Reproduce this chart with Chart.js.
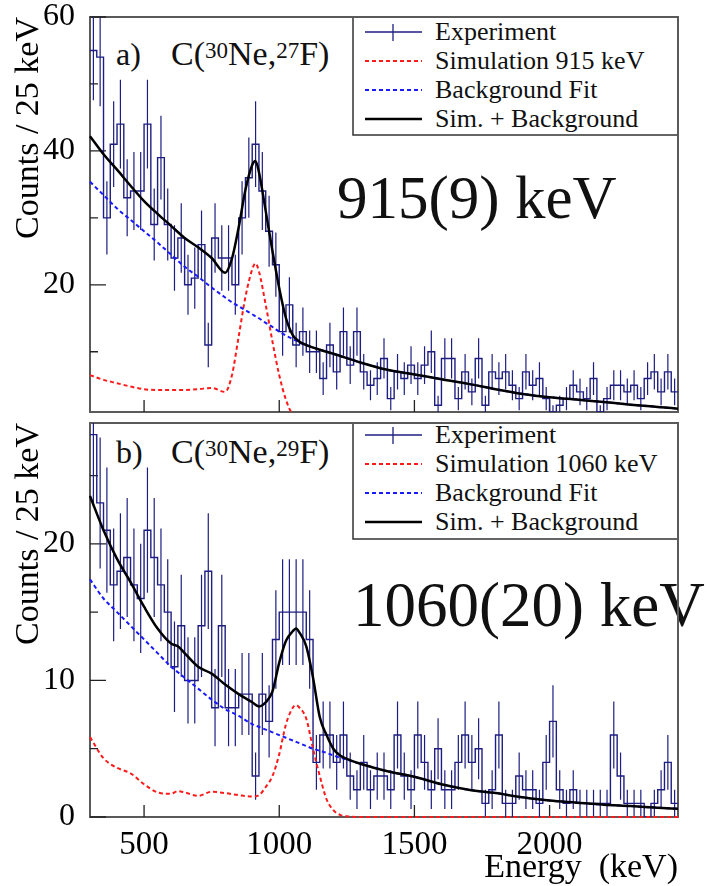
<!DOCTYPE html>
<html>
<head>
<meta charset="utf-8">
<script src="https://cdn.jsdelivr.net/npm/chart.js@4.4.1/dist/chart.umd.min.js"></script>
<style>
  html, body { margin: 0; padding: 0; background: #fff; }
  body { width: 710px; height: 886px; position: relative; overflow: hidden; }
  #ov { position: absolute; left: 0; top: 0; z-index: 0; }
  #ov text { font-family: "Liberation Serif", "Times New Roman", Times, "DejaVu Serif", serif; }
  canvas { position: absolute; left: 0; z-index: 1; }
  #cTop { top: 0; }
  #cBot { top: 418px; }
</style>
</head>
<body>
<svg id="ov" width="710" height="886" xmlns="http://www.w3.org/2000/svg">
  <g fill="#111">
    <!-- panel a -->
    <text x="116" y="65" font-size="32">a)</text>
    <text x="171" y="65" font-size="34">C(<tspan font-size="23" dy="-7">30</tspan><tspan dy="7">Ne,</tspan><tspan font-size="23" dy="-7">27</tspan><tspan dy="7">F)</tspan></text>
    <text x="337" y="218" font-size="61">915(9) keV</text>
    <!-- legend a -->
    <rect x="353" y="17" width="325" height="118" fill="#fff" stroke="#333" stroke-width="1.5"/>
    <line x1="365" y1="32" x2="422" y2="32" stroke="#1e1e82" stroke-width="1.3"/>
    <line x1="393" y1="24" x2="393" y2="41" stroke="#1e1e82" stroke-width="1.3"/>
    <line x1="365" y1="61" x2="422" y2="61" stroke="#ff1a1a" stroke-width="2" stroke-dasharray="4 3"/>
    <line x1="365" y1="90" x2="422" y2="90" stroke="#1a1aff" stroke-width="2" stroke-dasharray="4 3"/>
    <line x1="365" y1="119" x2="422" y2="119" stroke="#000" stroke-width="2.5"/>
    <text x="435" y="40" font-size="26">Experiment</text>
    <text x="435" y="69" font-size="26">Simulation 915 keV</text>
    <text x="435" y="98" font-size="26">Background Fit</text>
    <text x="435" y="127" font-size="26">Sim. + Background</text>
    <!-- panel b -->
    <text x="116" y="463" font-size="32">b)</text>
    <text x="171" y="463" font-size="34">C(<tspan font-size="23" dy="-7">30</tspan><tspan dy="7">Ne,</tspan><tspan font-size="23" dy="-7">29</tspan><tspan dy="7">F)</tspan></text>
    <text x="353" y="626" font-size="63">1060(20) keV</text>
    <!-- legend b -->
    <rect x="353" y="423" width="325" height="116" fill="#fff" stroke="#333" stroke-width="1.5"/>
    <line x1="365" y1="435" x2="422" y2="435" stroke="#1e1e82" stroke-width="1.3"/>
    <line x1="393" y1="427" x2="393" y2="444" stroke="#1e1e82" stroke-width="1.3"/>
    <line x1="365" y1="464" x2="422" y2="464" stroke="#ff1a1a" stroke-width="2" stroke-dasharray="4 3"/>
    <line x1="365" y1="493" x2="422" y2="493" stroke="#1a1aff" stroke-width="2" stroke-dasharray="4 3"/>
    <line x1="365" y1="522" x2="422" y2="522" stroke="#000" stroke-width="2.5"/>
    <text x="435" y="443" font-size="26">Experiment</text>
    <text x="435" y="472" font-size="26">Simulation 1060 keV</text>
    <text x="435" y="501" font-size="26">Background Fit</text>
    <text x="435" y="530" font-size="26">Sim. + Background</text>
  </g>
</svg>
<canvas id="cTop" width="710" height="418"></canvas>
<canvas id="cBot" width="710" height="468"></canvas>
<script>
// ---------- data ----------
const binStart = 300;      // keV, lower edge of first bin
const binWidth = 25;       // keV per bin
const energyMin = 300;
const energyMax = 2475;

// panel a) C(30Ne,27F) : counts per 25 keV bin
const topCounts = [55,54,30,41,44,33,34,34,44,29,
                   39,29,24,27,20,21,26,11,27,24,
                   24,20,30,36,41,34,28,23,13,17,
                   11,13,10,10,6,11,7,13,8,13,
                   7,5,6,9,3,7,6,8,6,8,
                   10,2,9,9,3,7,4,9,2,7,
                   6,7,5,3,7,5,6,3,1,2,
                   3,5,4,3,6,1,3,5,5,4,
                   5,3,6,7,4,7,4];
// panel a) fit curves
const topFitE = [300,350,400,450,500,550,600,650,700,750,800,825,850,875,900,912,925,950,975,1000,1025,1050,1075,1100,1150,1200,1300,1400,1500,1600,1700,1800,1900,2000,2100,2200,2300,2400,2475];
const topBg   = [35.4,33.4,31.4,29.7,28.0,26.3,24.5,22.7,21.2,19.6,18.1,17.4,16.8,16.2,15.6,15.3,15.0,14.3,13.7,13.0,12.4,11.9,11.4,11.0,10.3,9.7,8.4,7.3,6.6,5.9,5.2,4.4,3.7,3.2,2.85,2.5,2.1,1.75,1.5];
const topSim  = [6.5,5.8,5.3,4.8,4.4,4.3,4.3,4.3,4.4,4.6,4.0,6.5,12.3,18.2,22.3,23.2,22.0,17.0,11.5,6.5,2.8,0.6,0.1,0,0,0,0,0,0,0,0,0,0,0,0,0,0,0,0];
const topSum  = [42.2,39.5,37.2,34.8,32.5,30.6,28.8,27.0,25.6,24.0,21.8,23.9,28.6,34.2,37.9,38.5,36.8,31.0,25.0,19.5,15.0,12.5,11.5,11.0,10.3,9.7,8.4,7.3,6.6,5.9,5.2,4.4,3.7,3.2,2.85,2.5,2.1,1.75,1.5];

// panel b) C(30Ne,29F)
const botCounts = [28,23,21,17,18,19,17,16,21,19,
                   17,15,11,14,10,10,14,18,8,14,
                   8,8,9,9,3,9,7,13,15,15,
                   15,15,13,4,6,6,4,6,3,2,
                   4,2,3,3,2,6,3,2,6,4,
                   2,5,2,2,4,6,4,5,1,2,
                   6,1,1,3,2,2,1,4,7,2,
                   1,2,1,1,1,1,1,6,3,1,
                   1,1,0,1,2,4,1];
const botFitE = [300,350,400,450,500,550,600,625,650,700,750,800,850,900,925,950,975,1000,1025,1050,1062,1075,1100,1125,1150,1175,1200,1225,1250,1300,1400,1500,1600,1700,1800,1900,2000,2100,2200,2300,2400,2475];
const botBg   = [17.4,16.0,15.0,14.0,13.0,12.0,11.0,10.6,10.2,9.4,8.6,7.9,7.4,6.8,6.6,6.4,6.2,6.0,5.8,5.6,5.5,5.4,5.2,5.0,4.85,4.7,4.5,4.35,4.2,3.9,3.35,2.95,2.4,2.0,1.75,1.45,1.2,1.05,0.9,0.8,0.68,0.6];
const botSim  = [5.85,4.3,3.6,3.2,2.4,1.8,1.7,1.9,1.8,1.55,1.85,1.75,1.6,1.5,1.6,2.2,3.0,4.6,6.8,8.0,8.2,8.0,7.2,5.0,3.0,1.3,0.5,0.15,0.05,0,0,0,0,0,0,0,0,0,0,0,0,0];
const botSum  = [23.5,21.0,18.9,17.2,15.4,13.8,12.7,12.5,12.0,11.0,10.5,9.7,9.0,8.4,8.1,8.4,9.2,11.3,12.9,13.6,13.8,13.5,12.5,10.2,7.3,6.0,5.0,4.5,4.25,3.9,3.35,2.95,2.4,2.0,1.75,1.45,1.2,1.05,0.9,0.8,0.68,0.6];

// tick labels
const xTicks = [500, 1000, 1500, 2000];
const topYTicks = [20, 40, 60];
const topYMinor = [10, 30, 50];
const topYRange = [1, 60];
const botYTicks = [0, 10, 20];
const botYMinor = [5, 15, 25];
const botYRange = [0, 28.85];

// ---------- helpers ----------
const SERIF = '"Liberation Serif", "Times New Roman", Times, "DejaVu Serif", serif';
const NAVY = '#1e1e82', RED = '#ff1a1a', BLUE = '#1a1aff';

function stepPoints(counts) {
  const pts = counts.map((c, i) => ({x: binStart + i * binWidth, y: c}));
  pts.push({x: binStart + counts.length * binWidth, y: counts[counts.length - 1]});
  return pts;
}
function errorPoints(counts) {
  const pts = [];
  counts.forEach((c, i) => {
    if (c <= 0) return;
    const cx = binStart + (i + 0.5) * binWidth;
    const e = Math.sqrt(c);
    pts.push({x: cx, y: c - e}, {x: cx, y: c + e}, {x: cx, y: null});
  });
  return pts;
}
function curve(xs, ys) { return xs.map((x, i) => ({x: x, y: ys[i]})); }

const frameTicks = {
  id: 'frameTicks',
  beforeDatasetsDraw(chart, args, opts) {
    const {ctx, chartArea: a, scales: {x, y}} = chart;
    ctx.save();
    ctx.strokeStyle = '#5a5a5a';
    ctx.lineWidth = 2;
    ctx.strokeRect(a.left, a.top, a.right - a.left, a.bottom - a.top);
    ctx.strokeStyle = '#222';
    ctx.lineWidth = 1.3;
    ctx.beginPath();
    opts.yMajor.forEach(v => { const p = y.getPixelForValue(v); ctx.moveTo(a.left, p); ctx.lineTo(a.left + 16, p); });
    opts.yMinor.forEach(v => { const p = y.getPixelForValue(v); ctx.moveTo(a.left, p); ctx.lineTo(a.left + 8, p); });
    opts.xMajor.forEach(v => { const p = x.getPixelForValue(v); ctx.moveTo(p, a.bottom); ctx.lineTo(p, a.bottom - 12); });
    ctx.stroke();
    ctx.restore();
  }
};

function makeChart(canvasId, cfg) {
  const datasets = [
    {label: 'Sim. + Background', data: curve(cfg.fitE, cfg.sum), borderColor: '#000', borderWidth: 2.5,
     pointRadius: 0, cubicInterpolationMode: 'monotone', order: 0, clip: 2},
    {label: 'Background Fit', data: curve(cfg.fitE, cfg.bg), borderColor: BLUE, borderWidth: 2, borderDash: [4, 3],
     pointRadius: 0, cubicInterpolationMode: 'monotone', order: 1, clip: 2},
    {label: cfg.simLabel, data: curve(cfg.fitE, cfg.sim), borderColor: RED, borderWidth: 2, borderDash: [4, 3],
     pointRadius: 0, cubicInterpolationMode: 'monotone', order: 2, clip: 2},
    {label: 'Experiment errors', data: errorPoints(cfg.counts), borderColor: NAVY, borderWidth: 1.2,
     pointRadius: 0, spanGaps: false, tension: 0, order: 3},
    {label: 'Experiment', data: stepPoints(cfg.counts), borderColor: NAVY, borderWidth: 1.4,
     pointRadius: 0, stepped: 'before', order: 4}
  ];
  return new Chart(document.getElementById(canvasId), {
    type: 'line',
    data: {datasets: datasets},
    options: {
      responsive: false,
      animation: false,
      devicePixelRatio: 1,
      layout: {padding: {top: cfg.padTop, right: 32, left: 0, bottom: 0}},
      plugins: {
        legend: {display: false},
        tooltip: {enabled: false},
        frameTicks: {yMajor: cfg.yTicks, yMinor: cfg.yMinor, xMajor: xTicks}
      },
      scales: {
        x: {
          type: 'linear', min: energyMin, max: energyMax,
          grid: {display: false}, border: {display: false},
          ticks: {display: cfg.showX, maxRotation: 0, autoSkip: false, color: '#000', padding: 1,
                  font: {family: SERIF, size: 33}, callback: v => String(v)},
          afterBuildTicks: s => { s.ticks = xTicks.map(v => ({value: v})); },
          title: {display: cfg.showX, text: 'Energy  (keV)', align: 'end', color: '#000',
                  font: {family: SERIF, size: 34, lineHeight: 1}, padding: {top: 0, bottom: 1}},
          afterFit: s => { s.height = cfg.xHeight; s.paddingLeft = 0; s.paddingRight = 0; }
        },
        y: {
          type: 'linear', min: cfg.yRange[0], max: cfg.yRange[1],
          grid: {display: false}, border: {display: false},
          ticks: {color: '#000', padding: 7, font: {family: SERIF, size: 32}, callback: v => String(v)},
          afterBuildTicks: s => { s.ticks = cfg.yTicks.map(v => ({value: v})); },
          title: {display: true, text: 'Counts / 25 keV', align: 'end', color: '#000',
                  font: {family: SERIF, size: 34, lineHeight: 1}, padding: {top: 12, bottom: 0}},
          afterFit: s => { s.width = 90; s.paddingTop = 0; s.paddingBottom = 0; }
        }
      }
    },
    plugins: [frameTicks]
  });
}

makeChart('cTop', {
  counts: topCounts, fitE: topFitE, bg: topBg, sim: topSim, sum: topSum,
  simLabel: 'Simulation 915 keV', yTicks: topYTicks, yMinor: topYMinor, yRange: topYRange,
  padTop: 17, xHeight: 6, showX: false
});
makeChart('cBot', {
  counts: botCounts, fitE: botFitE, bg: botBg, sim: botSim, sum: botSum,
  simLabel: 'Simulation 1060 keV', yTicks: botYTicks, yMinor: botYMinor, yRange: botYRange,
  padTop: 5, xHeight: 69, showX: true
});
</script>
</body>
</html>
